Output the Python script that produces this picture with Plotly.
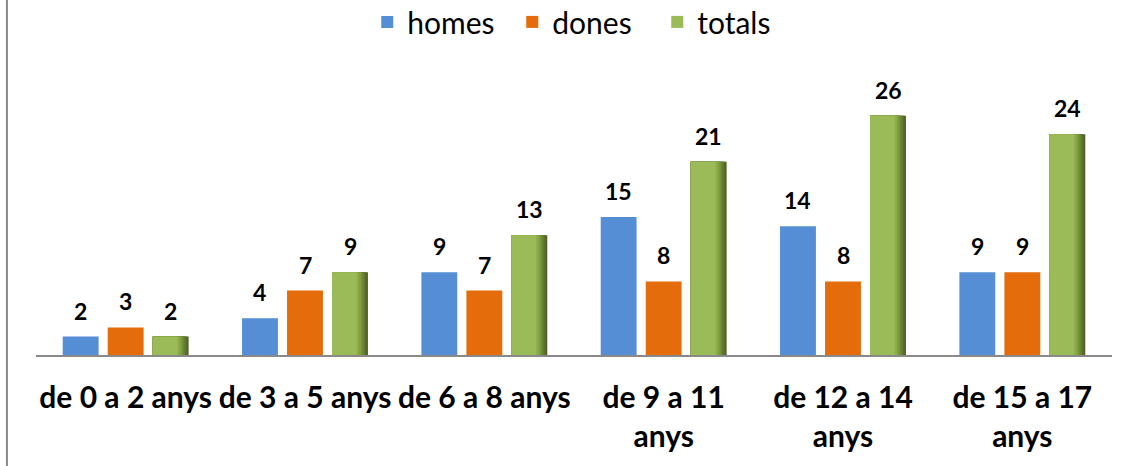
import plotly.graph_objects as go

categories = ["de 0 a 2 anys", "de 3 a 5 anys", "de 6 a 8 anys",
              "de 9 a 11<br>anys", "de 12 a 14<br>anys", "de 15 a 17<br>anys"]
homes = [2, 4, 9, 15, 14, 9]
dones = [3, 7, 7, 8, 8, 9]
totals = [2, 9, 13, 21, 26, 24]

FONT = "Lato"
BLUE = "#558ED5"
ORANGE = "#E46C0A"
GREEN = "#9BBB59"
AXIS = "#898989"

BAR_W = 0.2
SLOT = 0.251
x = list(range(len(categories)))

fig = go.Figure()
fig.add_trace(go.Bar(x=x, y=homes, name="homes", marker_color=BLUE,
                     offset=-SLOT - BAR_W / 2, width=BAR_W))
fig.add_trace(go.Bar(x=x, y=dones, name="dones", marker_color=ORANGE,
                     offset=-BAR_W / 2, width=BAR_W))

# totals: layered bars to fake the dark right-edge gradient
shades = [("#4F6228", 1.0), ("#586D2C", 0.96), ("#617930", 0.92), ("#6B8535", 0.88),
          ("#76923B", 0.84), ("#82A042", 0.80), ("#8DAD4B", 0.75), (GREEN, 0.69)]
for i, (col, frac) in enumerate(shades):
    last = i == len(shades) - 1
    fig.add_trace(go.Bar(x=x, y=totals, name="totals", marker_color=col,
                         offset=SLOT - BAR_W / 2, width=BAR_W * frac,
                         showlegend=last, hoverinfo=None if last else "skip"))

fig.update_traces(marker_line_width=0)

# value labels above bars
for vals, off in [(homes, -SLOT), (dones, 0), (totals, SLOT)]:
    for i, v in enumerate(vals):
        fig.add_annotation(x=i + off, y=v, text=f"<b>{v}</b>", showarrow=False,
                           yanchor="bottom", yshift=10,
                           font=dict(family=FONT, size=23, color="black"))

# chart border on the left
fig.add_shape(type="line", xref="paper", yref="paper", x0=-0.027, x1=-0.027,
              y0=-0.4, y1=1.2, line=dict(color=AXIS, width=2))

fig.update_layout(
    width=1130, height=466,
    margin=dict(l=36, r=18, t=55, b=111, autoexpand=False),
    paper_bgcolor="white", plot_bgcolor="white",
    barmode="overlay",
    font=dict(family=FONT, color="black"),
    legend=dict(orientation="h", x=0.51, xanchor="center",
                yref="container", y=0.953, yanchor="middle",
                font=dict(size=30), traceorder="normal", entrywidth=100),
    xaxis=dict(tickmode="array", tickvals=x, ticktext=[f"<b>{c}</b>" for c in categories],
               range=[-0.5, 5.5], showline=True, linecolor=AXIS, linewidth=2,
               ticks="outside", ticklen=15, tickcolor="rgba(0,0,0,0)",
               tickfont=dict(size=30), showgrid=False, zeroline=False, automargin=False),
    yaxis=dict(range=[0, 32.6], visible=False),
)

fig.write_html("out.html", config={"displayModeBar": False},
               post_script="document.body.style.margin='0';")
